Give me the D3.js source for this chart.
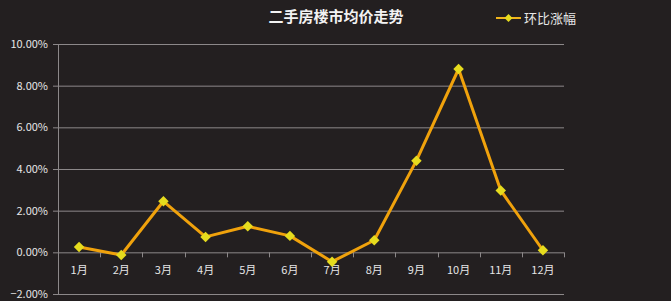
<!DOCTYPE html>
<html>
<head>
<meta charset="utf-8">
<script src="https://cdn.jsdelivr.net/npm/d3@7"></script>
<style>
  body { margin: 0; background: #231f20; }
  text { font-family: "Noto Sans CJK SC", "DejaVu Sans", sans-serif; }
</style>
</head>
<body>
<script>
//chart data
var months = ["1月", "2月", "3月", "4月", "5月", "6月", "7月", "8月", "9月", "10月", "11月", "12月"];
var changes = [0.26, -0.13, 2.45, 0.74, 1.25, 0.79, -0.45, 0.58, 4.40, 8.80, 2.97, 0.10];
var yTicks = [-2, 0, 2, 4, 6, 8, 10];
var seriesName = "环比涨幅";
var chartTitle = "二手房楼市均价走势";

var w = 671, h = 301;
//plot area edges (note: "top" is reserved on window)
var plotLeft = 58, plotRight = 564, plotTop = 44, plotBottom = 294;

var svg = d3.select("body").append("svg")
    .attr("width", w)
    .attr("height", h)
    .style("background-color", "#231f20");

//scales
var x = d3.scaleBand().domain(months).range([plotLeft, plotRight]);
var y = d3.scaleLinear().domain([-2, 10]).range([plotBottom, plotTop]);

//horizontal gridlines + y labels
var yAxis = d3.axisLeft(y)
    .tickValues(yTicks)
    .tickSize(-(plotRight - plotLeft))
    .tickPadding(10)
    .tickFormat(function(d){ return d3.format(".2f")(d) + "%"; });

var gy = svg.append("g")
    .attr("transform", "translate(" + plotLeft + ",0)")
    .call(yAxis);
gy.select(".domain").remove();
gy.selectAll(".tick line")
    .attr("x1", -5)
    .attr("stroke", "#8c8889")
    .attr("stroke-width", 1);
gy.selectAll(".tick text")
    .attr("fill", "#e6e6e6")
    .style("font-size", "11px");

//vertical axis line
svg.append("line")
    .attr("x1", plotLeft + 0.5).attr("x2", plotLeft + 0.5)
    .attr("y1", y(10)).attr("y2", y(-2))
    .attr("stroke", "#8c8889");

//x axis at zero
var xAxis = d3.axisBottom(x).tickSize(0).tickPadding(14);
var gx = svg.append("g")
    .attr("transform", "translate(0," + y(0) + ")")
    .call(xAxis);
gx.select(".domain").remove();
gx.selectAll(".tick text")
    .attr("fill", "#e6e6e6")
    .style("font-size", "11px");

//category boundary ticks
var bounds = months.map(function(m){ return x(m); }).concat([plotRight]);
svg.selectAll(".xtick")
    .data(bounds)
    .enter()
    .append("line")
    .attr("class", "xtick")
    .attr("x1", function(d){ return Math.round(d) + 0.5; })
    .attr("x2", function(d){ return Math.round(d) + 0.5; })
    .attr("y1", y(0))
    .attr("y2", y(0) + 5)
    .attr("stroke", "#8c8889");

//line
var line = d3.line()
    .x(function(d, i){ return x(months[i]) + x.bandwidth() / 2; })
    .y(function(d){ return y(d); });

svg.append("path")
    .datum(changes)
    .attr("d", line)
    .attr("fill", "none")
    .attr("stroke", "#f0a20c")
    .attr("stroke-width", 3)
    .attr("stroke-linejoin", "round");

//markers
var diamond = d3.symbol().type(d3.symbolDiamond2).size(70);
svg.selectAll(".pt")
    .data(changes)
    .enter()
    .append("path")
    .attr("class", "pt")
    .attr("d", diamond)
    .attr("transform", function(d, i){
        return "translate(" + (x(months[i]) + x.bandwidth() / 2) + "," + y(d) + ")";
    })
    .attr("fill", "#e6dc1e");

//title
svg.append("text")
    .attr("x", 336)
    .attr("y", 22)
    .attr("text-anchor", "middle")
    .attr("fill", "#f2f2f2")
    .style("font-size", "15px")
    .style("font-weight", "bold")
    .text(chartTitle);

//legend
svg.append("line")
    .attr("x1", 496).attr("x2", 521)
    .attr("y1", 18).attr("y2", 18)
    .attr("stroke", "#f0b41c")
    .attr("stroke-width", 2);
svg.append("path")
    .attr("d", d3.symbol().type(d3.symbolDiamond2).size(40))
    .attr("transform", "translate(508.5,18)")
    .attr("fill", "#e6dc1e");
svg.append("text")
    .attr("x", 524)
    .attr("y", 23)
    .attr("fill", "#e6e6e6")
    .style("font-size", "13px")
    .text(seriesName);
</script>
</body>
</html>
